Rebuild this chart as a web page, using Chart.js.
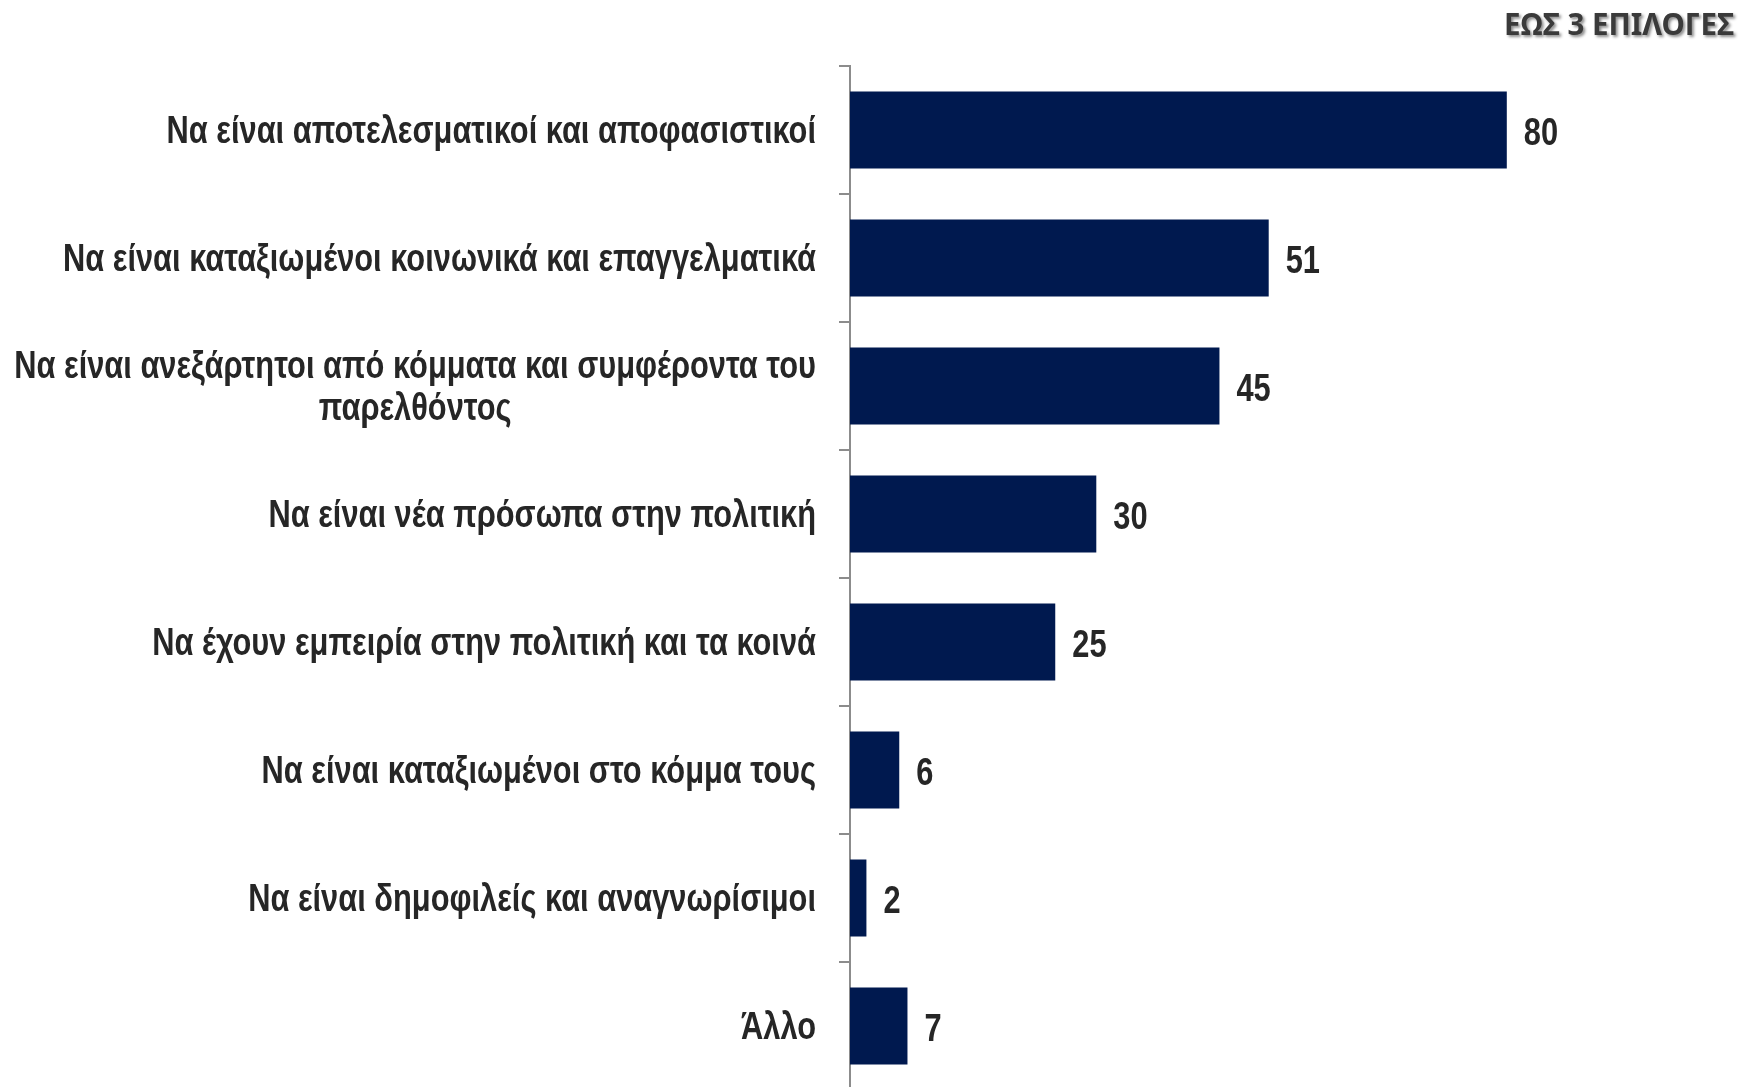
<!DOCTYPE html>
<html>
<head>
<meta charset="utf-8">
<script src="https://cdn.jsdelivr.net/npm/chart.js@4.4.1/dist/chart.umd.min.js"></script>
<style>
  html, body { margin: 0; padding: 0; background: #ffffff; overflow: hidden; }
  #wrap { position: relative; width: 1748px; height: 1100px; }
  #title {
    position: absolute; right: 14px; top: 3px;
    font-family: "Noto Sans", "Open Sans", sans-serif; font-weight: bold; font-size: 29.5px;
    color: #3a3a3a; text-shadow: 2px 2px 3px rgba(0,0,0,0.45); white-space: nowrap;
  }
</style>
</head>
<body>
<div id="wrap">
  <canvas id="c" width="1748" height="1100"></canvas>
  <div id="title">ΕΩΣ 3 ΕΠΙΛΟΓΕΣ</div>
</div>
<script>
const categories = [
  "Να είναι αποτελεσματικοί και αποφασιστικοί",
  "Να είναι καταξιωμένοι κοινωνικά και επαγγελματικά",
  ["Να είναι ανεξάρτητοι από κόμματα και συμφέροντα του", "παρελθόντος"],
  "Να είναι νέα πρόσωπα στην πολιτική",
  "Να έχουν εμπειρία στην πολιτική και τα κοινά",
  "Να είναι καταξιωμένοι στο κόμμα τους",
  "Να είναι δημοφιλείς και αναγνωρίσιμοι",
  "Άλλο"
];
const values = [80, 51, 45, 30, 25, 6, 2, 7];

const FONT = '"Liberation Sans Narrow", "Arial Narrow", "Liberation Sans", Arial, sans-serif';
const SQUEEZE = 0.79;

const labelPlugin = {
  id: 'labels',
  afterDraw(chart) {
    const ctx = chart.ctx;
    const yScale = chart.scales.y;
    const meta = chart.getDatasetMeta(0);
    ctx.save();
    ctx.fillStyle = '#262626';
    ctx.font = 'bold 39px ' + FONT;
    ctx.textBaseline = 'alphabetic';
    const rightEdge = yScale.right - 11 - 23;
    const lineH = 42;
    categories.forEach((lab, i) => {
      const lines = Array.isArray(lab) ? lab : [lab];
      const y = yScale.getPixelForValue(i);
      const widths = lines.map(l => ctx.measureText(l).width * SQUEEZE);
      const block = Math.max(...widths);
      const cx = rightEdge - block / 2;
      lines.forEach((l, k) => {
        const ly = y + 12.5 + (k - (lines.length - 1) / 2) * lineH;
        ctx.save();
        ctx.translate(cx, ly);
        ctx.scale(SQUEEZE, 1);
        ctx.textAlign = 'center';
        ctx.fillText(l, 0, 0);
        ctx.restore();
      });
    });
    meta.data.forEach((bar, i) => {
      ctx.save();
      ctx.translate(bar.x + 17, bar.y + 14.5);
      ctx.scale(SQUEEZE, 1);
      ctx.textAlign = 'left';
      ctx.fillText(String(values[i]), 0, 0);
      ctx.restore();
    });
    ctx.restore();
  }
};

new Chart(document.getElementById('c'), {
  type: 'bar',
  data: {
    labels: categories,
    datasets: [{
      data: values,
      backgroundColor: '#00194f',
      borderWidth: 0,
      barPercentage: 0.6,
      categoryPercentage: 1.0
    }]
  },
  options: {
    indexAxis: 'y',
    responsive: false,
    animation: false,
    layout: { padding: { left: 0, right: 77, top: 66, bottom: 10 } },
    plugins: { legend: { display: false }, tooltip: { enabled: false } },
    scales: {
      x: { display: false, min: 0, max: 100 },
      y: {
        position: 'left',
        offset: true,
        afterFit(scale) { scale.width = 850; },
        ticks: { display: false },
        grid: {
          display: true, offset: true, drawOnChartArea: false, drawTicks: true,
          tickLength: 11, color: '#8c8c8c', lineWidth: 2
        },
        border: { display: true, color: '#8c8c8c', width: 2 }
      }
    }
  },
  plugins: [labelPlugin]
});
</script>
</body>
</html>
